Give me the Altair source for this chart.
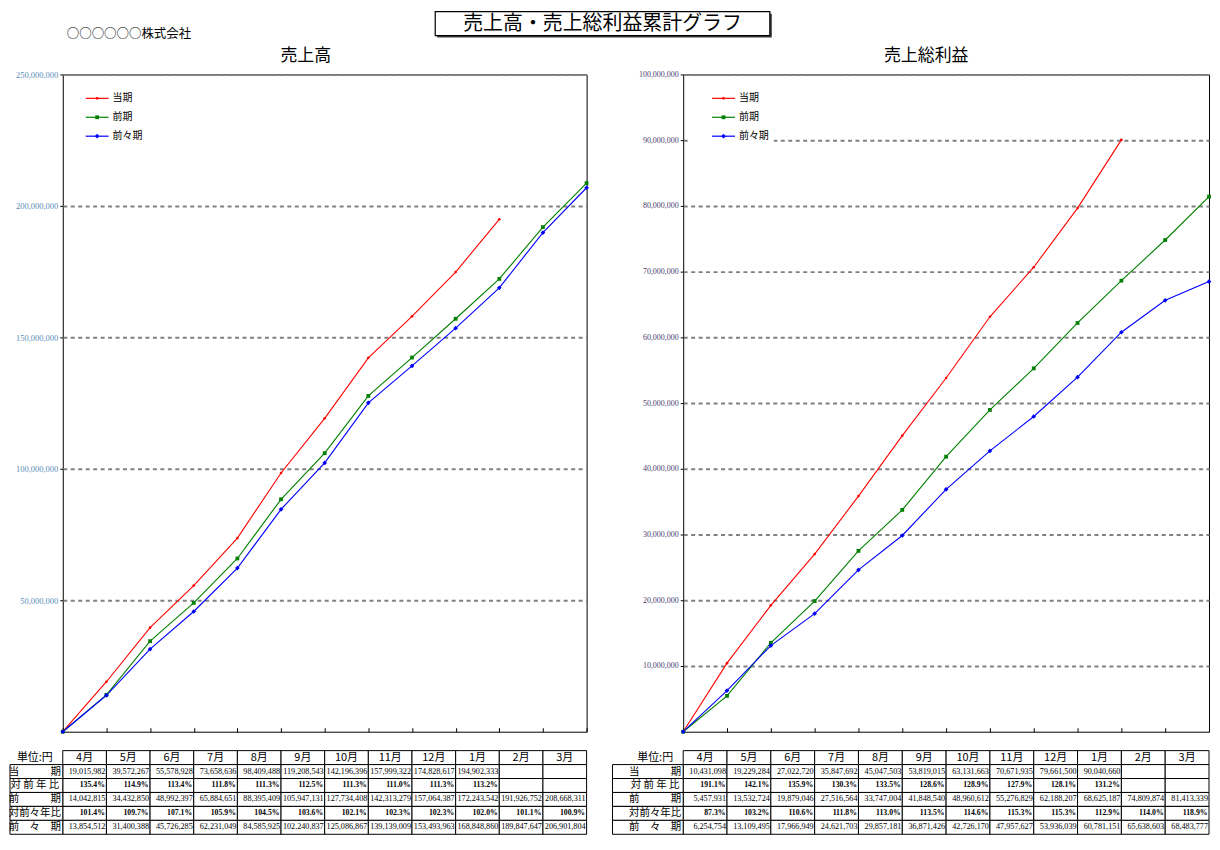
import altair as alt
import pandas as pd

# ---------------- data ----------------
months = ["4月", "5月", "6月", "7月", "8月", "9月", "10月", "11月", "12月", "1月", "2月", "3月"]
series_names = ["当期", "前期", "前々期"]
row_labels = ["当　　　期", "対 前 年 比", "前　　　期", "対前々年比", "前　々　期"]

sales_cur = [19015982, 39572267, 55578928, 73658636, 98409488, 119208543, 142196396,
             157999322, 174828617, 194902333]
sales_yoy = [135.4, 114.9, 113.4, 111.8, 111.3, 112.5, 111.3, 111.0, 111.3, 113.2]
sales_prev = [14042815, 34432850, 48992397, 65884651, 88395409, 105947131, 127734408,
              142313279, 157064387, 172243542, 191926752, 208668311]
sales_yoy2 = [101.4, 109.7, 107.1, 105.9, 104.5, 103.6, 102.1, 102.3, 102.3, 102.0, 101.1, 100.9]
sales_prev2 = [13854512, 31400388, 45726285, 62231049, 84585925, 102240837, 125086867,
               139139009, 153493963, 168848860, 189847647, 206901804]

gp_cur = [10431098, 19229284, 27022720, 35847692, 45047503, 53819015, 63131663,
          70671935, 79661500, 90040660]
gp_yoy = [191.1, 142.1, 135.9, 130.3, 133.5, 128.6, 128.9, 127.9, 128.1, 131.2]
gp_prev = [5457931, 13532724, 19879046, 27516564, 33747004, 41848540, 48960612,
           55276829, 62188207, 68625187, 74809874, 81413339]
gp_yoy2 = [87.3, 103.2, 110.6, 111.8, 113.0, 113.5, 114.6, 115.3, 115.3, 112.9, 114.0, 118.9]
gp_prev2 = [6254754, 13109495, 17966949, 24621703, 29857181, 36871426, 42726170,
            47957627, 53936039, 60781151, 65638603, 68483777]

sales_ticks = [50000000, 100000000, 150000000, 200000000, 250000000]
gp_ticks = [10000000, 20000000, 30000000, 40000000, 50000000,
            60000000, 70000000, 80000000, 90000000, 100000000]

main_title = "売上高・売上総利益累計グラフ"
company = "○○○○○○株式会社"
left_title = "売上高"
right_title = "売上総利益"

JP = "Noto Sans CJK JP"
SERIF = "Liberation Serif"
HEIGHT = 660
TABLE_RANGE = [679, 763]
COLORS = ["#ff0000", "#008000", "#0000ff"]


def panel(cur, yoy, prev, yoy2, prev2, ymax, ticks, width, lw,
          lab_color, lab_size, lgx, lg_box, extra_layers):
    recs = []
    for name, vals in zip(series_names, [cur, prev, prev2]):
        recs.append({"series": name, "mk": name, "idx": 0, "v": 0})
        for i, v in enumerate(vals):
            recs.append({"series": name, "mk": name, "idx": i + 1, "v": v})
    ldf = pd.DataFrame(recs)

    xscale = alt.Scale(domain=[0, 12], nice=False, zero=False)
    xaxis = alt.Axis(title=None, labels=False, grid=False, domain=False,
                     values=list(range(13)), tickSize=4, tickColor="black",
                     tickWidth=1, offset=-4)
    yscale = alt.Scale(domain=[0, ymax], nice=False)
    yaxis = alt.Axis(title=None, values=ticks, labelExpr="format(datum.value, ',')",
                     labelFont=SERIF, labelFontSize=lab_size, labelColor=lab_color,
                     tickSize=3, tickColor="black", labelPadding=2, domain=False,
                     grid=True, gridColor="#808080", gridWidth=2,
                     gridDash=[4, 3.5])
    cscale = alt.Scale(domain=series_names, range=COLORS)
    shscale = alt.Scale(domain=series_names, range=["circle", "square", "diamond"])
    szscale = alt.Scale(domain=series_names, range=[7, 22, 18])

    base = alt.Chart(ldf)
    line = base.mark_line(strokeWidth=1.1).encode(
        x=alt.X("idx:Q", scale=xscale, axis=xaxis),
        y=alt.Y("v:Q", scale=yscale, axis=yaxis),
        color=alt.Color("series:N", scale=cscale, legend=None),
    )
    pts = base.mark_point(filled=True, opacity=1, strokeWidth=0).encode(
        x=alt.X("idx:Q", scale=xscale, axis=xaxis),
        y=alt.Y("v:Q", scale=yscale, axis=yaxis),
        fill=alt.Fill("mk:N", scale=cscale, legend=None),
        shape=alt.Shape("mk:N", scale=shscale, legend=None),
        size=alt.Size("mk:N", scale=szscale, legend=None),
    )
    plot = alt.layer(line, pts)

    # ---- legend drawn from the series list
    lgdf = pd.DataFrame({"series": series_names, "mk": series_names,
                         "k": list(range(len(series_names)))})
    lgy = alt.Y("k:Q", scale=alt.Scale(domain=[0, 2], range=[24, 62]), axis=None)
    lgc = alt.Chart(lgdf)
    lg_bg = alt.Chart(pd.DataFrame({"a": [0]})).mark_rect(fill="white").encode(
        x=alt.value(lg_box[0]), x2=alt.value(lg_box[1]),
        y=alt.value(14), y2=alt.value(72))
    lg_line = lgc.mark_rule(strokeWidth=1.2).encode(
        x=alt.value(lgx), x2=alt.value(lgx + 23), y=lgy,
        color=alt.Color("series:N", scale=cscale, legend=None))
    lg_pt = lgc.mark_point(filled=True, opacity=1, strokeWidth=0).encode(
        x=alt.value(lgx + 11.5), y=lgy,
        fill=alt.Fill("mk:N", scale=cscale, legend=None),
        shape=alt.Shape("mk:N", scale=shscale, legend=None),
        size=alt.Size("mk:N", scale=szscale, legend=None))
    lg_txt = lgc.mark_text(font=JP, fontSize=10, color="black", align="left",
                           baseline="middle").encode(
        x=alt.value(lgx + 27), y=lgy, text="series:N")

    # ---- table
    tscale = alt.Scale(domain=[0, 6], range=TABLE_RANGE, nice=False, zero=False)
    cells = []
    for r in range(6):
        for c in range(12):
            cells.append({"x0": c, "x1": c + 1, "r0": r, "r1": r + 1})
    for r in range(1, 6):
        cells.append({"x0": -lw, "x1": 0, "r0": r, "r1": r + 1})
    cdf = pd.DataFrame(cells)
    hdr = pd.DataFrame({"xc": [i + 0.5 for i in range(12)] + [-0.64],
                        "y": [0.5] * 13, "t": months + ["単位:円"]})
    lab = pd.DataFrame({"xc": [-0.64] * 5, "y": [r + 1.5 for r in range(5)],
                        "t": row_labels})
    nums = []
    for r, vals in [(1, cur), (3, prev), (5, prev2)]:
        for c, v in enumerate(vals):
            nums.append({"xr": c + 1, "y": r + 0.5, "t": f"{v:,}"})
    ndf = pd.DataFrame(nums)
    pcs = []
    for r, vals in [(2, yoy), (4, yoy2)]:
        for c, v in enumerate(vals):
            pcs.append({"xr": c + 1, "y": r + 0.5, "t": f"{v:.1f}%"})
    pdf = pd.DataFrame(pcs)

    rects = alt.Chart(cdf).mark_rect(fill="white", stroke="black", strokeWidth=1).encode(
        x=alt.X("x0:Q", scale=xscale, axis=xaxis), x2="x1:Q",
        y=alt.Y("r0:Q", scale=tscale, axis=None), y2="r1:Q")
    t_hdr = alt.Chart(hdr).mark_text(font=JP, fontSize=11, color="black",
                                     baseline="middle").encode(
        x=alt.X("xc:Q", scale=xscale, axis=xaxis),
        y=alt.Y("y:Q", scale=tscale, axis=None), text="t:N")
    t_lab = alt.Chart(lab).mark_text(font=JP, fontSize=10.5, color="black",
                                     baseline="middle").encode(
        x=alt.X("xc:Q", scale=xscale, axis=xaxis),
        y=alt.Y("y:Q", scale=tscale, axis=None), text="t:N")
    t_num = alt.Chart(ndf).mark_text(font=SERIF, fontSize=8.2, color="black",
                                     align="right", dx=-1, baseline="middle").encode(
        x=alt.X("xr:Q", scale=xscale, axis=xaxis),
        y=alt.Y("y:Q", scale=tscale, axis=None), text="t:N")
    t_pct = alt.Chart(pdf).mark_text(font=SERIF, fontSize=7.8, fontWeight="bold",
                                     color="black", align="right", dx=-1.5,
                                     baseline="middle").encode(
        x=alt.X("xr:Q", scale=xscale, axis=xaxis),
        y=alt.Y("y:Q", scale=tscale, axis=None), text="t:N")
    table = alt.layer(rects, t_hdr, t_lab, t_num, t_pct)

    return alt.layer(plot, lg_bg, lg_line, lg_pt, lg_txt, table, *extra_layers
                     ).resolve_scale(y="independent").properties(
        width=width, height=HEIGHT,
        view=alt.ViewBackground(stroke="black", strokeWidth=1))


# ---------------- header items (positioned relative to each panel) ----------------
hd = alt.Chart(pd.DataFrame({"a": [0]}))
shadow = hd.mark_rect(color="#404040").encode(
    x=alt.value(376), x2=alt.value(712), y=alt.value(-61), y2=alt.value(-37))
box = hd.mark_rect(fill="white", stroke="black", strokeWidth=1.2).encode(
    x=alt.value(374), x2=alt.value(710), y=alt.value(-63), y2=alt.value(-39))
main_t = hd.mark_text(text=main_title, font=JP, fontSize=20, color="black",
                      baseline="middle").encode(x=alt.value(542), y=alt.value(-51))
comp_t = hd.mark_text(text=company, font=JP, fontSize=12.5, color="black",
                      align="left", baseline="middle").encode(
    x=alt.value(4), y=alt.value(-41))
sub_l = hd.mark_text(text=left_title, font=JP, fontSize=17, color="black",
                     baseline="middle").encode(x=alt.value(244), y=alt.value(-19))
sub_r = hd.mark_text(text=right_title, font=JP, fontSize=17, color="black",
                     baseline="middle").encode(x=alt.value(244), y=alt.value(-19))

left = panel(sales_cur, sales_yoy, sales_prev, sales_yoy2, sales_prev2,
             250000000, sales_ticks, 526, 53 / (526 / 12), "#5b8cb8", 8.5,
             23, [16, 100], [shadow, box, main_t, comp_t, sub_l])
right = panel(gp_cur, gp_yoy, gp_prev, gp_yoy2, gp_prev2,
              100000000, gp_ticks, 528, 71 / 44, "#4a3d70", 8,
              29, [6, 91], [sub_r])

chart = alt.hconcat(left, right, spacing=97, bounds="flush").resolve_scale(
    color="independent", fill="independent", shape="independent", size="independent"
).properties(padding=0)

chart.save("out.html", embed_options={"renderer": "svg", "actions": False})
